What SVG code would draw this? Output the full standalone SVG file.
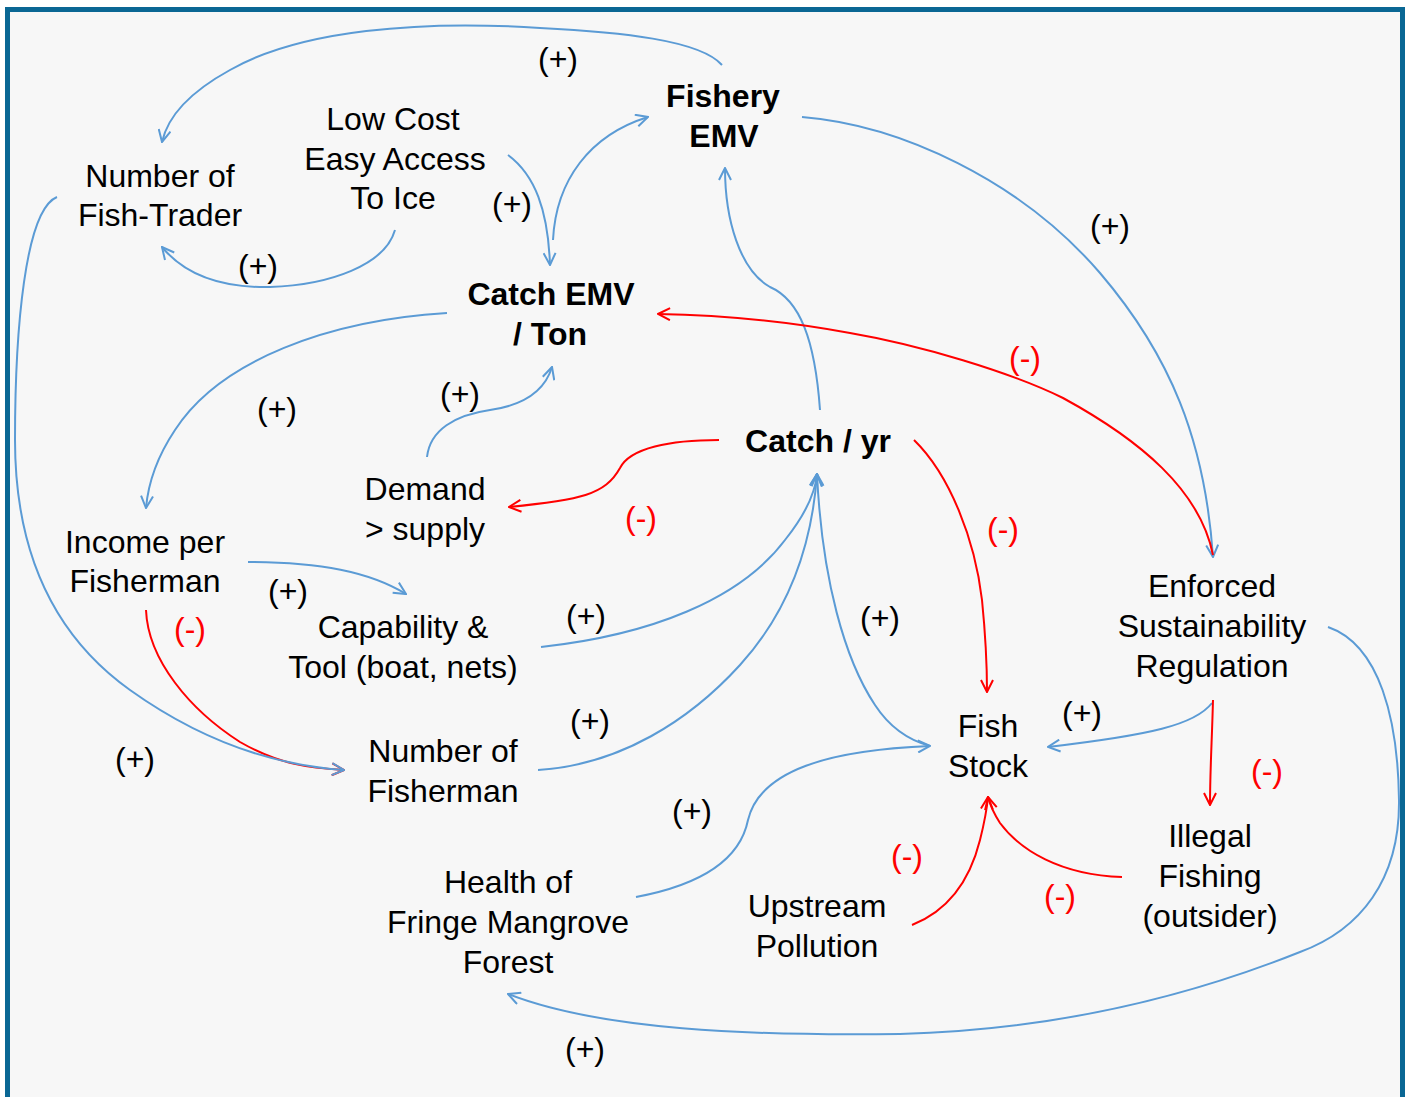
<svg xmlns="http://www.w3.org/2000/svg" width="1407" height="1097" viewBox="0 0 1407 1097">
  <style>
    .node { font-family: "Liberation Sans", Arial, sans-serif; font-size: 32px; fill: #000; text-anchor: middle; }
    .bold { font-weight: bold; }
    .sign { font-family: "Liberation Sans", Arial, sans-serif; font-size: 32px; text-anchor: middle; fill: #000; }
    .neg { fill: #ff0000; }
    .pos-link { fill: none; stroke: #5b9bd5; stroke-width: 2; }
    .neg-link { fill: none; stroke: #ff0000; stroke-width: 2; }
  </style>
  <defs>
    <marker id="arrow-blue" viewBox="0 0 14 14" refX="13" refY="7" markerWidth="14" markerHeight="14" markerUnits="userSpaceOnUse" orient="auto">
      <path d="M1,1 L13,7 L1,13" fill="none" stroke="#5b9bd5" stroke-width="2"/>
    </marker>
    <marker id="arrow-red" viewBox="0 0 14 14" refX="13" refY="7" markerWidth="14" markerHeight="14" markerUnits="userSpaceOnUse" orient="auto">
      <path d="M1,1 L13,7 L1,13" fill="none" stroke="#ff0000" stroke-width="2"/>
    </marker>
  </defs>

  <!-- frame -->
  <rect x="0" y="0" width="1407" height="1097" fill="#ffffff"/>
  <rect x="7.5" y="9.5" width="1395" height="1100" fill="#f7f7f7" stroke="#0a6794" stroke-width="5"/>

  <!-- connectors -->
  <g id="connectors">
    <!-- Fishery EMV -> Number of Fish-Trader -->
    <path class="pos-link" marker-end="url(#arrow-blue)" d="M722,65 C700,40 620,32 540,28 C420,20 300,30 230,70 C190,92 168,115 162,142"/>
    <!-- Low Cost -> Number of Fish-Trader -->
    <path class="pos-link" marker-end="url(#arrow-blue)" d="M395,230 C385,265 330,285 270,287 C220,288 185,275 162,247"/>
    <!-- Low Cost -> Catch EMV -->
    <path class="pos-link" marker-end="url(#arrow-blue)" d="M508,155 C535,175 548,210 550,265"/>
    <!-- Catch EMV -> Fishery EMV -->
    <path class="pos-link" marker-end="url(#arrow-blue)" d="M553,240 C556,180 590,135 648,117"/>
    <!-- Catch / yr -> Fishery EMV -->
    <path class="pos-link" marker-end="url(#arrow-blue)" d="M820,410 C815,340 800,300 770,287 C740,270 725,220 725,168"/>
    <!-- Fishery EMV -> Enforced Sustainability Regulation -->
    <path class="pos-link" marker-end="url(#arrow-blue)" d="M802,117 C900,125 1020,180 1100,273 C1170,355 1205,440 1213,557"/>
    <!-- Regulation -> Catch EMV -->
    <path class="neg-link" marker-end="url(#arrow-red)" d="M1213,555 C1200,490 1140,440 1063,398 C1010,372 920,345 850,333 C780,320 720,315 658,314"/>
    <!-- Catch EMV -> Income per Fisherman -->
    <path class="pos-link" marker-end="url(#arrow-blue)" d="M447,313 C330,320 220,360 175,430 C155,460 148,485 146,508"/>
    <!-- Demand > supply -> Catch EMV -->
    <path class="pos-link" marker-end="url(#arrow-blue)" d="M427,457 C430,430 455,415 490,410 C525,405 545,390 552,367"/>
    <!-- Catch / yr -> Demand > supply -->
    <path class="neg-link" marker-end="url(#arrow-red)" d="M719,440 C670,440 630,448 620,468 C605,495 580,500 509,507"/>
    <!-- Catch / yr -> Fish Stock -->
    <path class="neg-link" marker-end="url(#arrow-red)" d="M914,440 C950,475 975,540 982,600 C986,640 987,670 987,692"/>
    <!-- Income per Fisherman -> Capability & Tool -->
    <path class="pos-link" marker-end="url(#arrow-blue)" d="M248,562 C320,562 370,572 406,594"/>
    <!-- Capability & Tool -> Catch / yr -->
    <path class="pos-link" marker-end="url(#arrow-blue)" d="M541,647 C650,635 740,600 785,540 C805,515 815,495 817,474"/>
    <!-- Number of Fisherman -> Catch / yr -->
    <path class="pos-link" marker-end="url(#arrow-blue)" d="M538,770 C620,765 690,720 740,665 C790,610 812,545 817,474"/>
    <!-- Fish Stock -> Catch / yr -->
    <path class="pos-link" marker-end="url(#arrow-blue)" d="M930,746 C908,740 890,728 875,705 C845,660 822,580 817,474"/>
    <!-- Health of Mangrove -> Fish Stock -->
    <path class="pos-link" marker-end="url(#arrow-blue)" d="M636,897 C700,885 740,860 748,820 C760,770 830,750 930,746"/>
    <!-- Regulation -> Fish Stock -->
    <path class="pos-link" marker-end="url(#arrow-blue)" d="M1212,703 C1195,725 1150,735 1048,747"/>
    <!-- Regulation -> Illegal Fishing -->
    <path class="neg-link" marker-end="url(#arrow-red)" d="M1213,700 C1212,740 1210,770 1210,805"/>
    <!-- Illegal Fishing -> Fish Stock -->
    <path class="neg-link" marker-end="url(#arrow-red)" d="M1122,877 C1060,875 1020,850 1000,823 C993,812 990,805 988,797"/>
    <!-- Upstream Pollution -> Fish Stock -->
    <path class="neg-link" marker-end="url(#arrow-red)" d="M912,925 C950,910 970,880 980,840 C985,820 987,808 988,797"/>
    <!-- Regulation -> Health of Mangrove -->
    <path class="pos-link" marker-end="url(#arrow-blue)" d="M1328,627 C1380,645 1398,720 1399,800 C1400,880 1360,930 1300,952 C1180,1000 1050,1030 900,1034 C750,1036 600,1030 508,994"/>
    <!-- Income per Fisherman -> Number of Fisherman -->
    <path class="neg-link" marker-end="url(#arrow-red)" d="M146,610 C148,660 190,710 240,742 C280,765 310,768 344,770"/>
    <!-- Number of Fish-Trader -> Number of Fisherman -->
    <path class="pos-link" marker-end="url(#arrow-blue)" d="M57,197 C25,210 15,330 15,440 C15,560 60,640 130,690 C200,740 270,765 344,770"/>
  </g>

  <!-- link polarity labels -->
  <g id="signs">
    <text class="sign" x="558" y="70">(+)</text>
    <text class="sign" x="512" y="215">(+)</text>
    <text class="sign" x="258" y="277">(+)</text>
    <text class="sign" x="1110" y="237">(+)</text>
    <text class="sign neg" x="1025" y="369">(-)</text>
    <text class="sign" x="277" y="420">(+)</text>
    <text class="sign" x="460" y="405">(+)</text>
    <text class="sign neg" x="641" y="529">(-)</text>
    <text class="sign neg" x="1003" y="540">(-)</text>
    <text class="sign" x="288" y="602">(+)</text>
    <text class="sign neg" x="190" y="640">(-)</text>
    <text class="sign" x="586" y="627">(+)</text>
    <text class="sign" x="880" y="629">(+)</text>
    <text class="sign" x="590" y="732">(+)</text>
    <text class="sign" x="1082" y="724">(+)</text>
    <text class="sign neg" x="1267" y="782">(-)</text>
    <text class="sign" x="135" y="770">(+)</text>
    <text class="sign" x="692" y="822">(+)</text>
    <text class="sign neg" x="907" y="867">(-)</text>
    <text class="sign neg" x="1060" y="907">(-)</text>
    <text class="sign" x="585" y="1060">(+)</text>
  </g>

  <!-- nodes -->
  <g id="fish-trader"><text class="node" x="160" y="187">Number of</text><text class="node" x="160" y="226">Fish-Trader</text></g>
  <g id="low-cost"><text class="node" x="393" y="130">Low Cost</text><text class="node" x="395" y="170">Easy Access</text><text class="node" x="393" y="209">To Ice</text></g>
  <g id="fishery-emv"><text class="node bold" x="723" y="107">Fishery</text><text class="node bold" x="724" y="147">EMV</text></g>
  <g id="catch-emv"><text class="node bold" x="551" y="305">Catch EMV</text><text class="node bold" x="550" y="345">/ Ton</text></g>
  <g id="demand"><text class="node" x="425" y="500">Demand</text><text class="node" x="425" y="540">&gt; supply</text></g>
  <g id="catch-yr"><text class="node bold" x="818" y="452">Catch / yr</text></g>
  <g id="income"><text class="node" x="145" y="553">Income per</text><text class="node" x="145" y="592">Fisherman</text></g>
  <g id="capability"><text class="node" x="403" y="638">Capability &amp;</text><text class="node" x="403" y="678">Tool (boat, nets)</text></g>
  <g id="regulation"><text class="node" x="1212" y="597">Enforced</text><text class="node" x="1212" y="637">Sustainability</text><text class="node" x="1212" y="677">Regulation</text></g>
  <g id="fisherman"><text class="node" x="443" y="762">Number of</text><text class="node" x="443" y="802">Fisherman</text></g>
  <g id="fish-stock"><text class="node" x="988" y="737">Fish</text><text class="node" x="988" y="777">Stock</text></g>
  <g id="illegal"><text class="node" x="1210" y="847">Illegal</text><text class="node" x="1210" y="887">Fishing</text><text class="node" x="1210" y="927">(outsider)</text></g>
  <g id="mangrove"><text class="node" x="508" y="893">Health of</text><text class="node" x="508" y="933">Fringe Mangrove</text><text class="node" x="508" y="973">Forest</text></g>
  <g id="pollution"><text class="node" x="817" y="917">Upstream</text><text class="node" x="817" y="957">Pollution</text></g>
</svg>
